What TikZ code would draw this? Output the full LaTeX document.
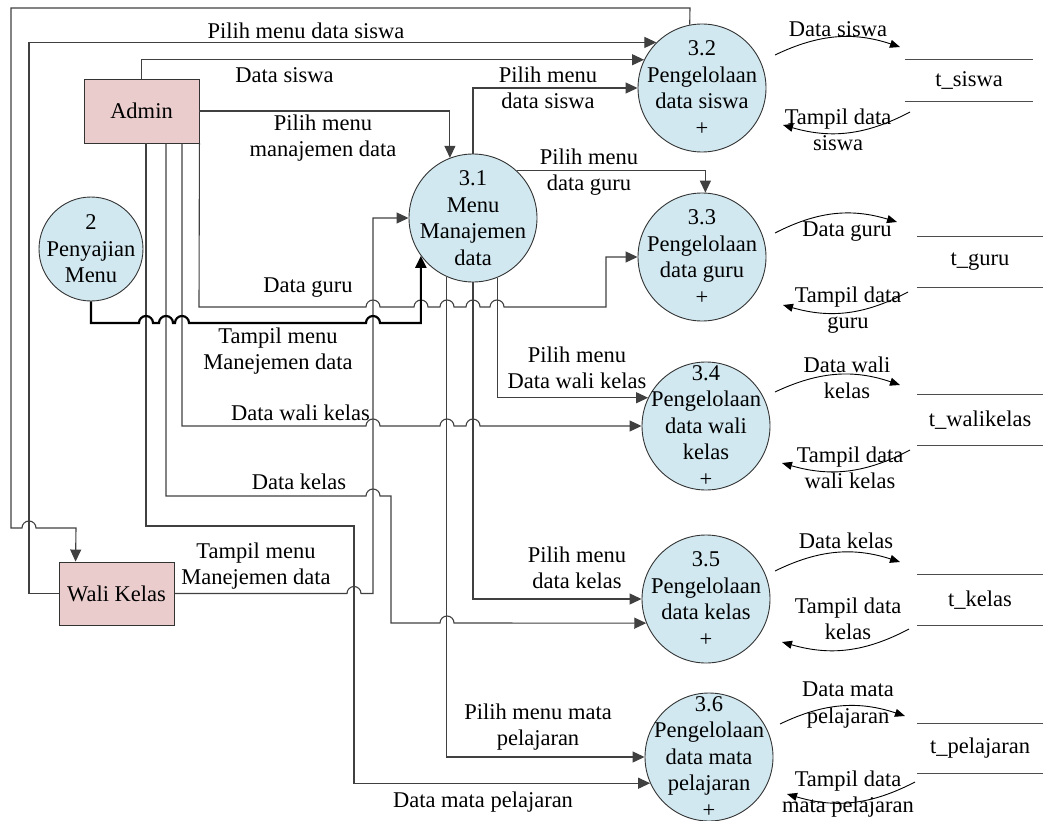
\documentclass[tikz,border=0pt]{standalone}
\usepackage{fontspec}
\setmainfont{Liberation Serif}
\usepackage{tikz}
\usetikzlibrary{arrows.meta}
\definecolor{procblue}{rgb}{0.82,0.91,0.94}
\definecolor{extpink}{rgb}{0.92,0.80,0.80}
\definecolor{linegray}{rgb}{0.25,0.25,0.25}

\begin{document}
\begin{tikzpicture}[%
  x=1pt, y=-1pt,
  >={Triangle[length=12pt,width=11pt]},
  font=\fontsize{22.5}{26.5}\selectfont,
  every node/.style={inner sep=0pt},
  flow/.style={->, draw=linegray, line width=1.1pt},
  menu/.style={flow, draw=black, line width=2.2pt},
  back/.style={-{Triangle[length=10pt,width=8pt]}, draw=black, line width=0.9pt},
  proc/.style={circle, draw=black!80, fill=procblue, line width=0.9pt, minimum size=128pt},
  ptext/.style={align=center},
  ext/.style={draw=black!80, fill=extpink, line width=0.9pt, minimum width=115pt, minimum height=64pt},
  store/.style={minimum width=126pt, minimum height=50pt},
  lbl/.style={align=center},
  hop/.style={insert path={arc[start angle=180, end angle=0, radius=7pt]}},
]
  \useasboundingbox (0,0) rectangle (1043,821);

  \node[ext] (admin) at (141.5,111) {Admin};
  \node[ext, minimum height=63pt] (wali) at (116.5,593.5) {Wali Kelas};

  \node[proc, minimum size=104pt] (p2) at (91,249) {};
  \node[ptext] (p2t) at (p2) {2\\Penyajian\\Menu};
  \node[proc] (p31) at (473,218) {};
  \node[ptext] (p31t) at (p31) {3.1\\Menu\\Manajemen\\data};
  \node[proc] (p32) at (702,88) {};
  \node[ptext] (p32t) at (p32) {3.2\\Pengelolaan\\data siswa\\+};
  \node[proc] (p33) at (702,257) {};
  \node[ptext] (p33t) at (p33) {3.3\\Pengelolaan\\data guru\\+};
  \node[proc] (p34) at (706,426) {};
  \node[ptext] (p34t) at (p34) {3.4\\Pengelolaan\\data wali\\kelas\\+};
  \node[proc] (p35) at (706,599) {};
  \node[ptext] (p35t) at (p35) {3.5\\Pengelolaan\\data kelas\\+};
  \node[proc] (p36) at (709,757) {};
  \node[ptext] (p36t) at (p36) {3.6\\Pengelolaan\\data mata\\pelajaran\\+};

  \node[store, minimum width=128pt, minimum height=41pt] (ts) at (969,80.5) {t\_siswa};
  \node[store] (tg) at (980,262) {t\_guru};
  \node[store] (tw) at (980,420) {t\_walikelas};
  \node[store] (tk) at (980,600) {t\_kelas};
  \node[store] (tp) at (980,748.5) {t\_pelajaran};
  \foreach \s in {ts,tg,tw,tk,tp}
    \draw[black!70, line width=1pt] (\s.north west) -- (\s.north east)
      (\s.south west) -- (\s.south east);

  % admin and wali kelas
  \draw[flow] (admin.north) |- (p32.154);
  \draw[flow] (admin.east) -| (p31.111);
  \draw[flow] (admin.south east) -- (199,307) -- (366,307) [hop] -- (414,307) [hop]
    -- (440,307) [hop] -- (466,307) [hop] -- (490,307) [hop] -- (606,307) |- (p33.west);
  \draw[flow] ([xshift=40.5pt]admin.south) -- (182,426) -- (366,426) [hop]
    -- (440,426) [hop] -- (466,426) [hop] -- (p34.west);
  \draw[flow] ([xshift=24.5pt]admin.south) -- (166,496) -- (366,496) [hop]
    -- (391,496) -- (391,623) -- (440,623) [hop] -- (p35.202);
  \draw[flow] ([xshift=4.5pt]admin.south) |- (354,526) |- (p36.204);
  \draw[flow] (wali.west) -- (29,593.5) |- (p32.135);
  \draw[flow] (wali.east) -- (347,593.5) [hop] -- (373,593.5) |- (p31.west);
  \draw[flow] (p32.101) -- (690,8) -- (11,8) -- (11,528) -- (22,528) [hop]
    -- (76,528) -- ([xshift=17pt]wali.north west);
  \draw[menu] (p2.south) -- (91,323) -- (139,323) [hop] -- (159,323) [hop]
    -- (175,323) [hop] -- (366,323) [hop] -| (p31.216);

  % menu manajemen data
  \draw[flow] (p31.north) |- (p32.west);
  \draw[flow] (p31.47) -| (p33.87);
  \draw[flow] (p31.292) |- (p34.154);
  \draw[flow] (p31.south) |- (p35.west);
  \draw[flow] (p31.246) |- (p36.west);

  % data stores
  \coordinate (d2-s) at (775,55);  \coordinate (d2-e) at (900,47);
  \coordinate (d2-b) at (910,112); \coordinate (d2-f) at (783,125);
  \coordinate (d3-s) at (775,233); \coordinate (d3-e) at (897,222);
  \coordinate (d3-b) at (908,292); \coordinate (d3-f) at (783,305);
  \coordinate (d4-s) at (775,392); \coordinate (d4-e) at (900,385);
  \coordinate (d4-b) at (910,450); \coordinate (d4-f) at (782,463);
  \coordinate (d5-s) at (775,571); \coordinate (d5-e) at (900,562);
  \coordinate (d5-b) at (909,629); \coordinate (d5-f) at (782,642);
  \coordinate (d6-s) at (780,724); \coordinate (d6-e) at (905,716);
  \coordinate (d6-b) at (915,782); \coordinate (d6-f) at (787,794);
  \foreach \i in {2,...,6}{
    \draw[back] (d\i-s) to[bend left=22] (d\i-e);
    \draw[back] (d\i-b) to[bend left=22] (d\i-f);
  }

  \node[lbl] (l1) at (306,31) {Pilih menu data siswa};
  \node[lbl] (l2) at (284.5,75) {Data siswa};
  \node[lbl] (l3) at (323,138) {Pilih menu\\manajemen data};
  \node[lbl] (l4) at (308,288) {Data guru};
  \node[lbl] (l5) at (278,351) {Tampil menu\\Manejemen data};
  \node[lbl] (l6) at (300.5,413) {Data wali kelas};
  \node[lbl] (l7) at (299,482) {Data kelas};
  \node[lbl] (l8) at (256,566) {Tampil menu\\Manejemen data};
  \node[lbl] (l9) at (548,88) {Pilih menu\\data siswa};
  \node[lbl] (l10) at (589,172) {Pilih menu\\data guru};
  \node[lbl] (l11) at (577,368) {Pilih menu\\Data wali kelas};
  \node[lbl] (l12) at (577,568) {Pilih menu\\data kelas};
  \node[lbl] (l13) at (538,727) {Pilih menu mata\\pelajaran};
  \node[lbl] (l14) at (483,802) {Data mata pelajaran};
  \node[lbl] (l15) at (838,29) {Data siswa};
  \node[lbl] (l16) at (838,130) {Tampil data\\siswa};
  \node[lbl] (l17) at (847,232) {Data guru};
  \node[lbl] (l18) at (848,310) {Tampil data\\guru};
  \node[lbl] (l19) at (847,378) {Data wali\\kelas};
  \node[lbl] (l20) at (850,468) {Tampil data\\wali kelas};
  \node[lbl] (l21) at (846,541) {Data kelas};
  \node[lbl] (l22) at (848,619) {Tampil data\\kelas};
  \node[lbl] (l23) at (848,705) {Data mata\\pelajaran};
  \node[lbl] (l24) at (848,794) {Tampil data\\mata pelajaran};

\end{tikzpicture}
\end{document}
